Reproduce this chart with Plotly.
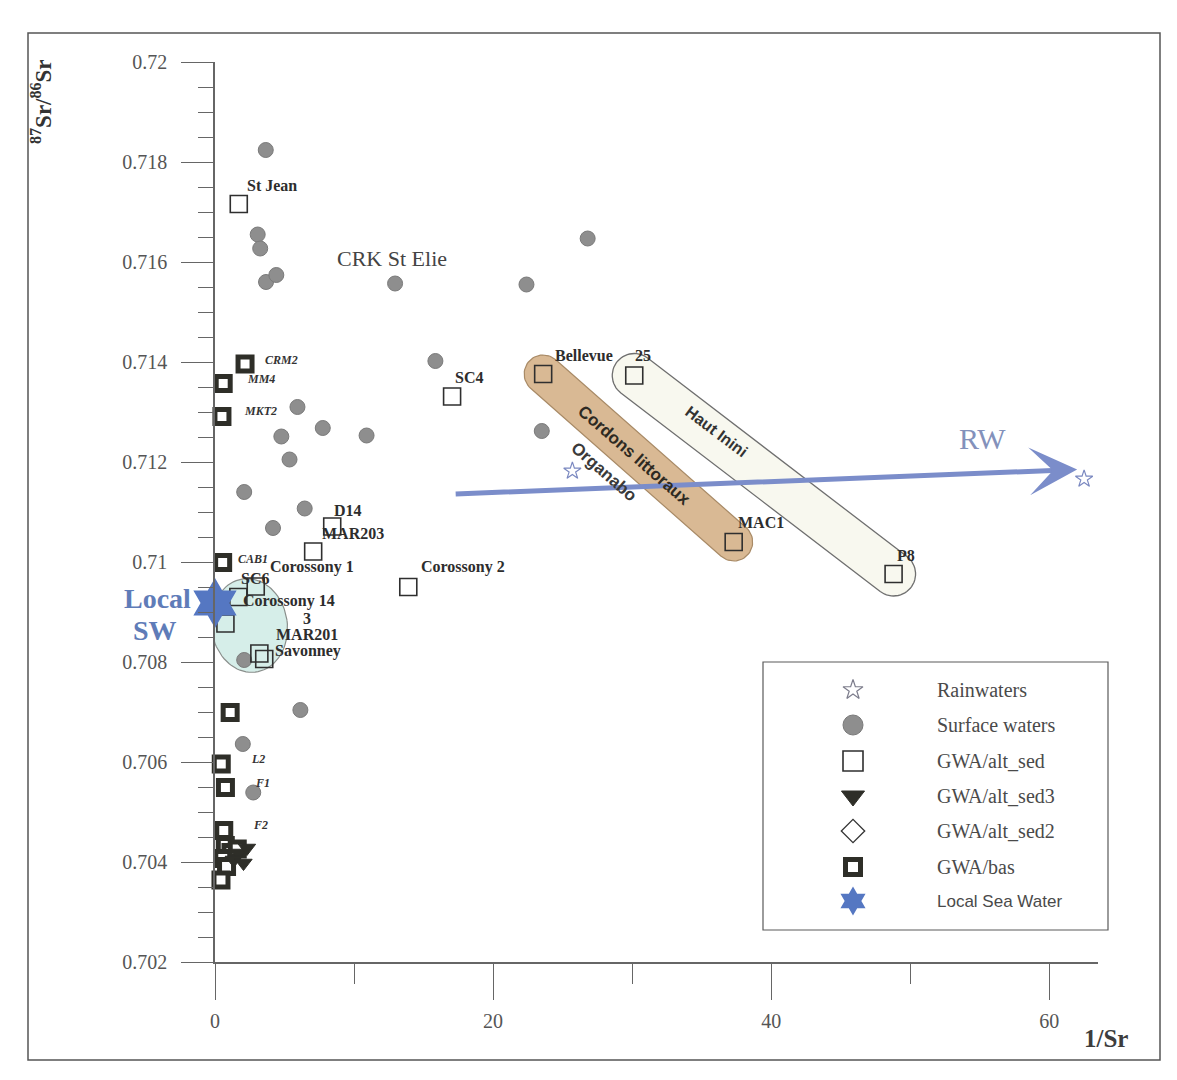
import numpy as np
import plotly.graph_objects as go

# ---- figure geometry -------------------------------------------------------
W, H = 1177, 1080
ML, MR, MT, MB = 215, 79, 62, 118
PLOT_W, PLOT_H = W - ML - MR, H - MT - MB
X_RANGE = [0, 63.5]
Y_RANGE = [0.702, 0.72]
SX = PLOT_W / (X_RANGE[1] - X_RANGE[0])   # px per 1/Sr unit
SY = PLOT_H / (Y_RANGE[1] - Y_RANGE[0])   # px per ratio unit

SERIF = "Liberation Serif"
SANS = "Liberation Sans"

# ---- data (1/Sr, 87Sr/86Sr) -----------------------------------------------
rain_x = [25.7, 62.5]
rain_y = [0.71182, 0.71166]

surface_x = [3.65, 3.07, 3.25, 3.67, 4.41, 12.95, 26.8, 22.4, 15.85, 5.93, 7.75,
             10.9, 4.77, 5.36, 2.1, 6.45, 4.17, 23.5, 2.1, 6.14, 2.0, 2.75]
surface_y = [0.71824, 0.71655, 0.71627, 0.7156, 0.71574, 0.71557, 0.71647, 0.71555,
             0.71402, 0.7131, 0.71268, 0.71253, 0.71251, 0.71205, 0.7114, 0.71107,
             0.71068, 0.71262, 0.70804, 0.70704, 0.70636, 0.70539]

alt_sed_names = ["St Jean", "SC4", "Bellevue", "25", "MAC1", "P8", "D14", "MAR203",
                 "Corossony 2", "SC6", "Corossony 14", "3", "MAR201", "Savonney"]
alt_sed_x = [1.71, 17.05, 23.6, 30.15, 37.3, 48.8, 8.43, 7.06, 13.9, 2.93, 1.68, 0.75, 3.19, 3.54]
alt_sed_y = [0.71716, 0.71331, 0.71376, 0.71373, 0.7104, 0.70976, 0.71071, 0.71021,
             0.7095, 0.70951, 0.7093, 0.70877, 0.70817, 0.70806]

alt_sed3_x = [1.7, 2.3, 1.35, 2.05]
alt_sed3_y = [0.70418, 0.70428, 0.70404, 0.70398]

alt_sed2_x = []
alt_sed2_y = []

bas_x = [2.16, 0.59, 0.5, 0.55, 1.09, 0.45, 0.75, 0.63, 0.74, 1.15, 0.56, 1.6, 0.83, 0.43]
bas_y = [0.71396, 0.71357, 0.71291, 0.70999, 0.70699, 0.70596, 0.70549, 0.70463,
         0.70433, 0.70419, 0.70407, 0.70426, 0.70391, 0.70364]

seawater_x = [0.0]
seawater_y = [0.70918]

# sample labels: (text, x, y)
bold_labels = [("St Jean", 4.07, 0.71754), ("SC4", 18.3, 0.71369), ("Bellevue", 26.5, 0.71413),
               ("25", 30.8, 0.71413), ("MAC1", 39.3, 0.7108), ("P8", 49.7, 0.71013),
               ("D14", 9.6, 0.71104), ("MAR203", 9.9, 0.71058), ("Corossony 1", 7.0, 0.70991),
               ("Corossony 2", 17.8, 0.7099), ("SC6", 2.9, 0.70968), ("Corossony 14", 5.3, 0.70922),
               ("3", 6.6, 0.70888), ("MAR201", 6.6, 0.70856), ("Savonney", 6.7, 0.70822)]
italic_labels = [("CRM2", 4.8, 0.71405), ("MM4", 3.3, 0.71367), ("MKT2", 3.25, 0.71303),
                 ("CAB1", 2.7, 0.71007), ("L2", 3.1, 0.70607), ("F1", 3.4, 0.70559),
                 ("F2", 3.25, 0.70475)]

# mixing line towards rainwater end-member
rw_start = (17.2, 0.71136)
rw_end = (62.0, 0.71185)

y_ticks = [0.702, 0.704, 0.706, 0.708, 0.71, 0.712, 0.714, 0.716, 0.718, 0.72]
y_tick_text = ["0.702", "0.704", "0.706", "0.708", "0.71", "0.712", "0.714", "0.716", "0.718", "0.72"]
x_ticks = [0, 20, 40, 60]


# ---- helpers ---------------------------------------------------------------
def stadium(p1, p2, r_px, n=30):
    """Rounded band between two data points, radius given in screen pixels."""
    a = np.array([p1[0] * SX, p1[1] * SY])
    b = np.array([p2[0] * SX, p2[1] * SY])
    d = (b - a) / np.linalg.norm(b - a)
    ang = np.arctan2(d[1], d[0])
    t1 = np.linspace(ang - np.pi / 2, ang + np.pi / 2, n)
    t2 = np.linspace(ang + np.pi / 2, ang + 3 * np.pi / 2, n)
    pts = [b + r_px * np.array([np.cos(t), np.sin(t)]) for t in t1]
    pts += [a + r_px * np.array([np.cos(t), np.sin(t)]) for t in t2]
    pts.append(pts[0])
    pts = np.array(pts)
    return pts[:, 0] / SX, pts[:, 1] / SY


def ellipse(c, rx_px, ry_px, tilt_deg=0, n=80):
    t = np.linspace(0, 2 * np.pi, n)
    th = np.radians(tilt_deg)
    ex = rx_px * np.cos(t)
    ey = ry_px * np.sin(t)
    px = ex * np.cos(th) - ey * np.sin(th)
    py = ex * np.sin(th) + ey * np.cos(th)
    return c[0] + px / SX, c[1] + py / SY


def to_paper(px, py):
    return (px - ML) / PLOT_W, (H - MB - py) / PLOT_H


def data_to_paper(x, y):
    return ((x - X_RANGE[0]) / (X_RANGE[1] - X_RANGE[0]),
            (y - Y_RANGE[0]) / (Y_RANGE[1] - Y_RANGE[0]))


fig = go.Figure()

# ---- grouping envelopes ----------------------------------------------------
ex, ey = ellipse((2.47, 0.70873), 38, 47, tilt_deg=8)
fig.add_trace(go.Scatter(x=ex, y=ey, mode="lines", fill="toself",
                         fillcolor="rgba(200,232,226,0.75)",
                         line=dict(color="#8a8f8c", width=1.2),
                         hoverinfo="skip", showlegend=False))

bx, by = stadium((alt_sed_x[3], alt_sed_y[3]), (alt_sed_x[5], alt_sed_y[5]), 22)
fig.add_trace(go.Scatter(x=bx, y=by, mode="lines", fill="toself", fillcolor="#f8f8ef",
                         line=dict(color="#6f6f6f", width=1.3),
                         hoverinfo="skip", showlegend=False))

cx, cy = stadium((alt_sed_x[2], alt_sed_y[2]), (alt_sed_x[4], alt_sed_y[4]), 19)
fig.add_trace(go.Scatter(x=cx, y=cy, mode="lines", fill="toself", fillcolor="#d9b994",
                         line=dict(color="#a88a66", width=1.2),
                         hoverinfo="skip", showlegend=False))

# ---- sample series ---------------------------------------------------------
common = dict(mode="markers", cliponaxis=False, showlegend=False, hoverinfo="x+y")

fig.add_trace(go.Scatter(x=surface_x, y=surface_y, name="Surface waters",
                         marker=dict(symbol="circle", size=15, color="#8e8e8e",
                                     line=dict(color="#7a7a7a", width=1)), **common))
fig.add_trace(go.Scatter(x=alt_sed_x, y=alt_sed_y, name="GWA/alt_sed", text=alt_sed_names,
                         marker=dict(symbol="square", size=17, color="rgba(0,0,0,0)",
                                     line=dict(color="#2f2f2f", width=1.6)), **common))
fig.add_trace(go.Scatter(x=bas_x, y=bas_y, name="GWA/bas",
                         marker=dict(symbol="square", size=14, color="#ffffff",
                                     line=dict(color="#2e2e28", width=5)), **common))
fig.add_trace(go.Scatter(x=alt_sed3_x, y=alt_sed3_y, name="GWA/alt_sed3",
                         marker=dict(symbol="triangle-down", size=15, color="#2e2e28",
                                     line=dict(color="#2e2e28", width=1)), **common))
fig.add_trace(go.Scatter(x=alt_sed2_x, y=alt_sed2_y, name="GWA/alt_sed2",
                         marker=dict(symbol="diamond-open", size=16, color="#333333",
                                     line=dict(width=1.5)), **common))
fig.add_trace(go.Scatter(x=rain_x, y=rain_y, name="Rainwaters",
                         marker=dict(symbol="star-open", size=13, color="#7a88c0",
                                     line=dict(width=1.2)), **common))
fig.add_trace(go.Scatter(x=seawater_x, y=seawater_y, name="Local Sea Water",
                         marker=dict(symbol="hexagram", size=38, color="#5577c2",
                                     line=dict(color="#5577c2", width=0)), **common))

annotations = []

# mixing arrow
annotations.append(dict(x=rw_end[0], y=rw_end[1], ax=rw_start[0], ay=rw_start[1],
                        xref="x", yref="y", axref="x", ayref="y", text="",
                        showarrow=True, arrowhead=3, arrowsize=1.6, arrowwidth=5,
                        arrowcolor="#7b8dca", standoff=0, startstandoff=0))

for txt, x, y in bold_labels:
    annotations.append(dict(x=x, y=y, text="<b>" + txt + "</b>", showarrow=False,
                            xref="x", yref="y",
                            font=dict(family=SERIF, size=16, color="#2d2d2d")))
for txt, x, y in italic_labels:
    annotations.append(dict(x=x, y=y, text="<b><i>" + txt + "</i></b>", showarrow=False,
                            xref="x", yref="y",
                            font=dict(family=SERIF, size=12, color="#333333")))

annotations += [
    dict(x=12.7, y=0.71607, xref="x", yref="y", text="CRK St Elie", showarrow=False,
         font=dict(family=SERIF, size=22, color="#444444")),
    dict(x=30.15, y=0.71213, xref="x", yref="y", text="<b>Cordons littoraux</b>",
         showarrow=False, textangle=41, font=dict(family=SANS, size=17, color="#2e2a22")),
    dict(x=27.95, y=0.71181, xref="x", yref="y", text="<b>Organabo</b>",
         showarrow=False, textangle=41, font=dict(family=SANS, size=17, color="#3a3a3a")),
    dict(x=36.05, y=0.71261, xref="x", yref="y", text="<b>Haut Inini</b>",
         showarrow=False, textangle=37, font=dict(family=SANS, size=16, color="#333333")),
    dict(x=55.2, y=0.71248, xref="x", yref="y", text="RW", showarrow=False,
         font=dict(family=SERIF, size=30, color="#8391bb")),
]

# seawater tag sits left of the y axis, so it is placed in paper units
for txt, x, y in [("Local", -4.1, 0.70926), ("SW", -4.3, 0.70862)]:
    px_, py_ = data_to_paper(x, y)
    annotations.append(dict(x=px_, y=py_, xref="paper", yref="paper", text="<b>" + txt + "</b>",
                            showarrow=False, xanchor="center", yanchor="middle",
                            font=dict(family=SERIF, size=28, color="#5f7cb8")))

# ---- hand-placed key on a pixel-space overlay ------------------------------
key_rows = [
    ("Rainwaters", dict(symbol="star-open", size=15, color="#7d7d8c", line=dict(width=1.2)), SERIF, 20),
    ("Surface waters", dict(symbol="circle", size=20, color="#8e8e8e",
                            line=dict(color="#7a7a7a", width=1)), SERIF, 20),
    ("GWA/alt_sed", dict(symbol="square", size=20, color="rgba(0,0,0,0)",
                         line=dict(color="#2f2f2f", width=1.6)), SERIF, 20),
    ("GWA/alt_sed3", dict(symbol="triangle-down", size=20, color="#2e2e28",
                          line=dict(color="#2e2e28", width=1)), SERIF, 20),
    ("GWA/alt_sed2", dict(symbol="diamond-open", size=18, color="#333333",
                          line=dict(width=1.3)), SERIF, 20),
    ("GWA/bas", dict(symbol="square", size=15, color="#ffffff",
                     line=dict(color="#2e2e28", width=5)), SERIF, 20),
    ("Local Sea Water", dict(symbol="hexagram", size=22, color="#5577c2",
                             line=dict(width=0)), SANS, 17),
]
key_y = [690, 725, 761, 796, 831, 867, 901]
for (label, mk, fam, fs), ky in zip(key_rows, key_y):
    fig.add_trace(go.Scatter(x=[853], y=[ky], xaxis="x2", yaxis="y2", mode="markers",
                             marker=mk, showlegend=False, hoverinfo="skip", cliponaxis=False))
    annotations.append(dict(x=935, y=ky, xref="x2", yref="y2", text=label, showarrow=False,
                            xanchor="left", yanchor="middle",
                            font=dict(family=fam, size=fs, color="#4a4a4a")))

# axis titles
tx, ty = to_paper(42, 102)
annotations.append(dict(x=tx, y=ty, xref="paper", yref="paper", showarrow=False, textangle=-90,
                        xanchor="center", yanchor="middle",
                        text="<b><sup>87</sup>Sr/<sup>86</sup>Sr</b>",
                        font=dict(family=SERIF, size=23, color="#333333")))
tx, ty = to_paper(1106, 1038)
annotations.append(dict(x=tx, y=ty, xref="paper", yref="paper", showarrow=False,
                        xanchor="center", yanchor="middle",
                        text="<b>1/Sr</b>", font=dict(family=SERIF, size=25, color="#3d3d3d")))

shapes = []
kx0, ky0 = to_paper(763, 930)
kx1, ky1 = to_paper(1108, 662)
shapes.append(dict(type="rect", xref="paper", yref="paper", x0=kx0, y0=ky0, x1=kx1, y1=ky1,
                   line=dict(color="#5a5a5a", width=1.2), fillcolor="rgba(0,0,0,0)"))
fx0, fy0 = to_paper(28, 1060)
fx1, fy1 = to_paper(1160, 33)
shapes.append(dict(type="rect", xref="paper", yref="paper", x0=fx0, y0=fy0, x1=fx1, y1=fy1,
                   line=dict(color="#555555", width=1.5), fillcolor="rgba(0,0,0,0)",
                   layer="below"))

tick_font = dict(family=SERIF, size=20, color="#555555")
fig.update_layout(
    width=W, height=H,
    margin=dict(l=ML, r=MR, t=MT, b=MB, pad=0),
    paper_bgcolor="white", plot_bgcolor="white",
    showlegend=False,
    annotations=annotations,
    shapes=shapes,
    xaxis=dict(range=X_RANGE, tickmode="array", tickvals=x_ticks, ticks="outside",
               ticklen=36, tickwidth=1.3, tickcolor="#666666", tickfont=tick_font,
               ticklabelstandoff=4,
               minor=dict(tickvals=[10, 30, 50], ticks="outside", ticklen=20,
                          tickwidth=1.3, tickcolor="#666666"),
               showline=True, linecolor="#666666", linewidth=1.5,
               showgrid=False, zeroline=False),
    yaxis=dict(range=Y_RANGE, tickmode="array", tickvals=y_ticks, ticktext=y_tick_text,
               ticks="outside", ticklen=32, tickwidth=1.3, tickcolor="#666666",
               tickfont=tick_font, ticklabelstandoff=10,
               minor=dict(tick0=0.702, dtick=0.0005, ticks="outside", ticklen=15,
                          tickwidth=1.3, tickcolor="#666666"),
               showline=True, linecolor="#666666", linewidth=1.5,
               showgrid=False, zeroline=False),
    xaxis2=dict(range=[ML, W - MR], overlaying="x", visible=False, fixedrange=True),
    yaxis2=dict(range=[H - MB, MT], overlaying="y", visible=False, fixedrange=True),
)

fig.write_html("out.html")
